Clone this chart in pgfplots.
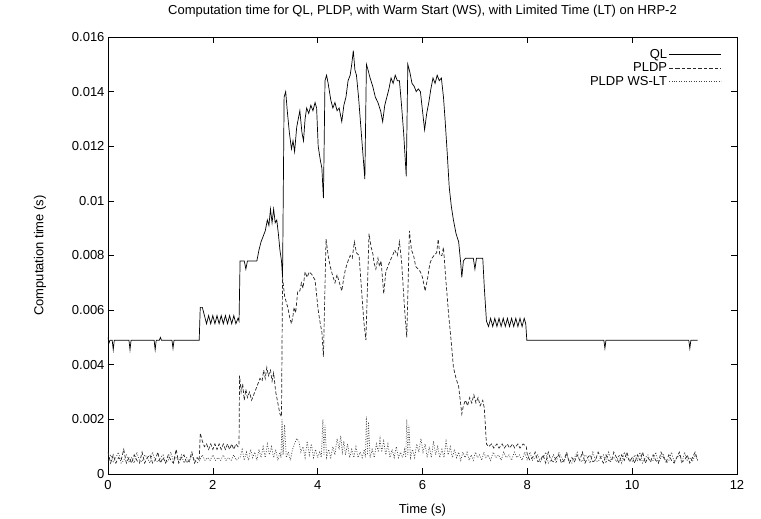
\documentclass[border=0pt]{standalone}
\usepackage{fontspec}
\setmainfont{Liberation Sans}
\usepackage{pgfplots}
\pgfplotsset{compat=1.18}

\begin{document}
\begin{tikzpicture}
\begin{axis}[
  scale only axis, width=629pt, height=437pt,
  xmin=0, xmax=12, ymin=0, ymax=0.016,
  font=\fontsize{13}{15}\selectfont,
  xtick={0,2,4,6,8,10,12}, xticklabels={0,2,4,6,8,10,12},
  ytick={0,0.002,0.004,0.006,0.008,0.01,0.012,0.014,0.016},
  yticklabels={0,0.002,0.004,0.006,0.008,0.01,0.012,0.014,0.016},
  scaled y ticks=false,
  xticklabel style={yshift=-3pt},
  tick align=inside, major tick length=6pt,
  every tick/.style={black, line width=0.6pt},
  axis line style={line width=0.8pt},
  title={Computation time for QL, PLDP, with Warm Start (WS), with Limited Time (LT) on HRP-2},
  title style={at={(0.5,1)}, anchor=center, yshift=20pt},
  xlabel={Time (s)}, ylabel={Computation time (s)},
  xlabel style={at={(axis description cs:0.5,-0.082)}, anchor=center},
  ylabel style={at={(axis description cs:-0.108,0.5)}, anchor=center},
  legend image code/.code={\path (0pt,0pt) -- (7pt,0pt); \draw[#1] (7pt,0pt) -- (52pt,0pt);},
  legend plot pos=right, legend cell align=right,
  legend style={at={(1,1)}, anchor=north east, xshift=-12pt, yshift=-8pt,
    draw=none, fill=none, row sep=-1pt},
]
% QL
\addplot[black, line width=0.7pt] coordinates {
(0,0.0050)(0.02,0.0048)(0.04,0.0049)(0.08,0.0049)(0.1,0.00455)(0.12,0.0049)(0.40,0.0049)(0.42,0.00455)(0.44,0.0049)(0.88,0.0049)(0.9,0.00455)(0.92,0.0049)(0.98,0.0049)(1.0,0.0050)(1.02,0.0049)(1.22,0.0049)(1.24,0.0046)(1.26,0.0049)(1.74,0.0049)
(1.76,0.0061)(1.80,0.0061)(1.84,0.0058)(1.88,0.0055)(1.92,0.0058)(1.96,0.0055)(2.00,0.0058)(2.04,0.0055)(2.08,0.0058)(2.12,0.0055)(2.16,0.0058)(2.20,0.0055)(2.24,0.0058)(2.28,0.0055)(2.32,0.0058)(2.36,0.0055)(2.40,0.0058)(2.44,0.0055)(2.48,0.0057)(2.50,0.0056)
(2.52,0.0078)(2.60,0.0078)(2.63,0.0075)(2.66,0.0078)(2.84,0.0078)(2.88,0.0082)(2.92,0.0085)(2.96,0.0087)(3.00,0.0089)(3.04,0.0093)(3.07,0.0091)(3.10,0.0097)(3.13,0.0092)(3.16,0.0097)(3.19,0.0092)(3.22,0.0093)(3.25,0.0088)(3.28,0.0082)(3.31,0.0078)(3.33,0.0072)
(3.36,0.0138)(3.39,0.0140)(3.42,0.0133)(3.46,0.0125)(3.50,0.0119)(3.53,0.0122)(3.56,0.0118)(3.60,0.0127)(3.63,0.0130)(3.66,0.0133)(3.70,0.0125)(3.73,0.0122)(3.76,0.0130)(3.79,0.0134)(3.83,0.0132)(3.87,0.0135)(3.91,0.0133)(3.95,0.0136)(3.98,0.0134)(4.01,0.0120)(4.05,0.0115)(4.08,0.0112)(4.11,0.0101)
(4.14,0.0144)(4.17,0.0146)(4.20,0.0143)(4.25,0.0137)(4.29,0.0134)(4.33,0.0136)(4.37,0.0133)(4.41,0.0134)(4.46,0.0129)(4.50,0.0135)(4.54,0.0138)(4.58,0.0144)(4.62,0.0146)(4.65,0.0150)(4.68,0.0155)(4.71,0.0148)(4.74,0.0146)(4.78,0.0138)(4.82,0.0128)(4.86,0.0118)(4.90,0.0108)
(4.93,0.0150)(4.96,0.0148)(5.00,0.0145)(5.05,0.0142)(5.10,0.0138)(5.15,0.0136)(5.20,0.0133)(5.24,0.0129)(5.28,0.0135)(5.32,0.0138)(5.36,0.0141)(5.40,0.0145)(5.44,0.0143)(5.48,0.0146)(5.52,0.0144)(5.56,0.0144)(5.60,0.0135)(5.64,0.0125)(5.69,0.0109)
(5.72,0.0150)(5.76,0.0147)(5.80,0.0143)(5.84,0.0142)(5.88,0.0140)(5.92,0.0141)(5.96,0.0140)(6.00,0.0133)(6.04,0.0126)(6.08,0.0132)(6.12,0.0136)(6.16,0.0141)(6.20,0.0145)(6.24,0.0143)(6.28,0.0146)(6.32,0.0144)(6.36,0.0145)(6.40,0.0138)(6.43,0.0130)(6.47,0.0118)(6.51,0.0105)(6.55,0.0098)(6.59,0.0093)(6.64,0.0088)(6.69,0.0085)(6.73,0.0077)(6.75,0.0072)(6.78,0.0078)(6.82,0.0079)(6.97,0.0079)(7.00,0.0075)(7.03,0.0079)(7.15,0.0079)(7.18,0.0068)(7.22,0.0056)
(7.26,0.0054)(7.30,0.0057)(7.34,0.0054)(7.38,0.0057)(7.42,0.0054)(7.46,0.0057)(7.50,0.0054)(7.54,0.0057)(7.58,0.0054)(7.62,0.0057)(7.66,0.0054)(7.70,0.0057)(7.74,0.0054)(7.78,0.0057)(7.82,0.0054)(7.86,0.0057)(7.90,0.0054)(7.94,0.0057)(7.97,0.0055)(7.99,0.0049)
(9.46,0.0049)(9.48,0.0046)(9.50,0.0049)(11.08,0.0049)(11.10,0.0046)(11.12,0.0049)(11.25,0.0049)
};
\addlegendentry{QL}
% PLDP
\addplot[black!85, line width=0.7pt, dash pattern=on 3.5pt off 2pt] coordinates {
(0,0.0008)(0.05,0.0004)(0.10,0.0007)(0.15,0.0004)(0.20,0.0006)(0.25,0.0005)(0.30,0.0009)(0.35,0.0004)(0.40,0.0006)(0.45,0.0004)(0.50,0.0007)(0.55,0.0005)(0.60,0.0004)(0.65,0.0008)(0.70,0.0004)(0.75,0.0006)(0.80,0.0007)(0.85,0.0004)(0.90,0.0005)(0.95,0.0008)(1.00,0.0004)(1.05,0.0006)(1.10,0.0004)(1.15,0.0007)(1.20,0.0005)(1.25,0.0004)(1.30,0.0009)(1.35,0.0004)(1.40,0.0006)(1.45,0.0007)(1.50,0.0004)(1.55,0.0005)(1.60,0.0008)(1.65,0.0004)(1.70,0.0006)
(1.74,0.0005)(1.76,0.0015)(1.80,0.0012)(1.84,0.0010)(1.88,0.0011)(1.92,0.0009)(1.96,0.0011)(2.00,0.0009)(2.04,0.0011)(2.08,0.0009)(2.12,0.0011)(2.16,0.0009)(2.20,0.0011)(2.24,0.0009)(2.28,0.0011)(2.32,0.0009)(2.36,0.0011)(2.40,0.0009)(2.44,0.0011)(2.48,0.0010)(2.50,0.0011)
(2.51,0.0036)(2.54,0.0030)(2.57,0.0033)(2.60,0.0027)(2.63,0.0031)(2.66,0.0028)(2.70,0.0030)(2.74,0.0027)(2.78,0.0029)(2.82,0.0031)(2.86,0.0033)(2.90,0.0035)(2.94,0.0034)(2.97,0.0038)(3.00,0.0035)(3.03,0.0039)(3.06,0.0036)(3.10,0.0038)(3.13,0.0034)(3.16,0.0037)(3.20,0.0030)(3.24,0.0026)(3.28,0.0022)(3.31,0.0021)
(3.33,0.0072)(3.37,0.0065)(3.43,0.0061)(3.47,0.0057)(3.50,0.0055)(3.53,0.0058)(3.55,0.0061)(3.58,0.0059)(3.62,0.0067)(3.66,0.0067)(3.69,0.0070)(3.72,0.0068)(3.76,0.0074)(3.80,0.0072)(3.84,0.0074)(3.89,0.0073)(3.95,0.0071)(4.01,0.0060)(4.05,0.0055)(4.08,0.0052)(4.11,0.0043)
(4.16,0.0086)(4.20,0.0080)(4.24,0.0076)(4.28,0.0073)(4.33,0.0070)(4.37,0.0073)(4.40,0.0071)(4.46,0.0067)(4.50,0.0072)(4.53,0.0075)(4.58,0.0078)(4.62,0.0080)(4.66,0.0079)(4.70,0.0085)(4.74,0.0081)(4.79,0.0080)(4.82,0.0072)(4.85,0.0064)(4.88,0.0056)(4.92,0.0049)
(4.98,0.0088)(5.02,0.0083)(5.05,0.0081)(5.08,0.0077)(5.11,0.0075)(5.15,0.0079)(5.18,0.0076)(5.21,0.0078)(5.26,0.0066)(5.30,0.0074)(5.34,0.0076)(5.38,0.0078)(5.43,0.0080)(5.47,0.0082)(5.52,0.0080)(5.56,0.0085)(5.60,0.0078)(5.63,0.0069)(5.66,0.0060)(5.70,0.0050)
(5.75,0.0089)(5.79,0.0082)(5.83,0.0080)(5.87,0.0076)(5.92,0.0075)(5.96,0.0074)(6.00,0.0072)(6.05,0.0067)(6.10,0.0072)(6.14,0.0077)(6.18,0.0079)(6.22,0.0080)(6.27,0.0081)(6.30,0.0086)(6.33,0.0080)(6.37,0.0080)(6.40,0.0083)(6.45,0.0070)(6.50,0.0058)(6.55,0.0048)(6.59,0.0039)(6.64,0.0035)(6.69,0.0032)(6.72,0.0027)(6.75,0.0022)(6.78,0.0025)(6.82,0.0027)(6.86,0.0025)(6.90,0.0028)(6.94,0.0026)(6.98,0.0029)(7.02,0.0026)(7.06,0.0028)(7.10,0.0025)(7.15,0.0027)(7.18,0.0024)(7.22,0.0011)
(7.26,0.0010)(7.32,0.0011)(7.36,0.00095)(7.42,0.0011)(7.46,0.00095)(7.52,0.0011)(7.56,0.00095)(7.62,0.0011)(7.66,0.00095)(7.72,0.0011)(7.76,0.00095)(7.82,0.0011)(7.86,0.00095)(7.92,0.0011)(7.98,0.0010)
(8.00,0.0007)(8.05,0.0005)(8.10,0.0006)(8.15,0.0008)(8.20,0.00045)(8.25,0.0005)(8.30,0.0007)(8.35,0.0004)(8.40,0.0008)(8.45,0.0005)(8.50,0.00045)(8.55,0.0006)(8.60,0.0007)(8.65,0.0004)(8.70,0.0005)(8.75,0.0008)(8.80,0.0004)(8.85,0.0006)(8.90,0.00045)(8.95,0.0007)(9.00,0.0005)(9.05,0.0008)(9.10,0.0004)(9.15,0.0006)(9.20,0.0007)(9.25,0.00045)(9.30,0.0005)(9.35,0.0008)(9.40,0.0006)(9.45,0.0004)(9.50,0.0007)(9.55,0.0005)(9.60,0.00045)(9.65,0.0008)(9.70,0.0006)(9.75,0.0004)(9.80,0.0007)(9.85,0.0005)(9.90,0.0008)(9.95,0.00045)(10.00,0.0006)(10.05,0.0004)(10.10,0.0007)(10.15,0.0005)(10.20,0.0008)(10.25,0.0004)(10.30,0.0006)(10.35,0.00045)(10.40,0.0007)(10.45,0.0005)(10.50,0.0004)(10.55,0.0008)(10.60,0.0006)(10.65,0.00045)(10.70,0.0007)(10.75,0.0005)(10.80,0.0004)(10.85,0.0006)(10.90,0.0008)(10.95,0.00045)(11.00,0.0005)(11.05,0.0007)(11.10,0.0004)(11.15,0.0006)(11.20,0.0008)(11.25,0.0005)
};
\addlegendentry{PLDP}
% PLDP WS-LT
\addplot[black!75, line width=0.7pt, dash pattern=on 0.9pt off 1.6pt] coordinates {
(0,0.0005)(0.05,0.0007)(0.10,0.00045)(0.15,0.0006)(0.20,0.0008)(0.25,0.0004)(0.30,0.0005)(0.35,0.0007)(0.40,0.00045)(0.45,0.0006)(0.50,0.0004)(0.55,0.0008)(0.60,0.0005)(0.65,0.00045)(0.70,0.0007)(0.75,0.0006)(0.80,0.0004)(0.85,0.0008)(0.90,0.0005)(0.95,0.00045)(1.00,0.0006)(1.05,0.0007)(1.10,0.0004)(1.15,0.0005)(1.20,0.0008)(1.25,0.00045)(1.30,0.0006)(1.35,0.0005)(1.40,0.0007)(1.45,0.0004)(1.50,0.0006)(1.55,0.00045)(1.60,0.0007)(1.65,0.0005)(1.70,0.0004)
(1.75,0.0005)(1.80,0.0007)(1.85,0.0005)(1.90,0.0006)(1.95,0.0005)(2.00,0.0007)(2.05,0.0005)(2.10,0.0006)(2.15,0.0005)(2.20,0.0007)(2.25,0.0005)(2.30,0.0006)(2.35,0.0005)(2.40,0.0007)(2.45,0.0005)(2.50,0.0006)
(2.52,0.0006)(2.56,0.0009)(2.60,0.0005)(2.64,0.0008)(2.68,0.0005)(2.72,0.0009)(2.76,0.0006)(2.80,0.0008)(2.84,0.0005)(2.88,0.0009)(2.92,0.0006)(2.96,0.0010)(3.00,0.0006)(3.04,0.0011)(3.08,0.0007)(3.12,0.0010)(3.16,0.0006)(3.20,0.0009)(3.24,0.0005)(3.28,0.0008)(3.30,0.0006)(3.32,0.0020)(3.34,0.0007)(3.37,0.0018)(3.40,0.0006)
(3.44,0.0008)(3.48,0.0005)(3.52,0.0009)(3.56,0.0011)(3.60,0.0013)(3.64,0.0012)(3.68,0.0008)(3.72,0.0010)(3.76,0.0006)(3.80,0.0012)(3.84,0.0007)(3.88,0.0011)(3.92,0.0006)(3.96,0.0009)(4.00,0.0006)(4.04,0.0008)(4.07,0.0006)(4.10,0.0020)(4.12,0.0007)(4.14,0.0018)(4.17,0.0006)
(4.21,0.0009)(4.25,0.0006)(4.29,0.0010)(4.33,0.0007)(4.37,0.0013)(4.41,0.0009)(4.44,0.0014)(4.47,0.0008)(4.50,0.0012)(4.53,0.0007)(4.57,0.0011)(4.61,0.0006)(4.65,0.0009)(4.69,0.0006)(4.73,0.0010)(4.77,0.0006)(4.81,0.0008)(4.85,0.0006)(4.89,0.0009)(4.91,0.0006)(4.93,0.0021)(4.95,0.0007)(4.97,0.0019)(5.00,0.0006)
(5.04,0.0009)(5.08,0.0006)(5.12,0.0011)(5.16,0.0008)(5.19,0.0013)(5.22,0.0008)(5.26,0.0012)(5.30,0.0007)(5.34,0.0011)(5.38,0.0006)(5.42,0.0009)(5.46,0.0006)(5.50,0.0010)(5.54,0.0006)(5.58,0.0008)(5.62,0.0006)(5.66,0.0009)(5.68,0.0006)(5.70,0.0020)(5.72,0.0007)(5.74,0.0018)(5.77,0.0006)
(5.81,0.0009)(5.85,0.0006)(5.89,0.0011)(5.93,0.0008)(5.97,0.0013)(6.01,0.0008)(6.05,0.0011)(6.09,0.0006)(6.13,0.0010)(6.17,0.0006)(6.21,0.0012)(6.25,0.0007)(6.29,0.0010)(6.33,0.0006)(6.37,0.0009)(6.41,0.0006)(6.45,0.0012)(6.49,0.0007)(6.53,0.0010)(6.57,0.0006)(6.61,0.0009)(6.65,0.0006)(6.69,0.0008)(6.73,0.0005)
(6.77,0.0008)(6.81,0.0006)(6.85,0.0008)(6.89,0.0005)(6.93,0.0007)(6.97,0.0005)(7.01,0.0008)(7.05,0.0006)(7.09,0.0007)(7.13,0.0005)(7.17,0.0008)(7.21,0.0006)(7.25,0.0007)(7.30,0.0005)(7.35,0.0008)(7.40,0.0006)(7.45,0.0007)(7.50,0.0005)(7.55,0.0008)(7.60,0.0006)(7.65,0.0007)(7.70,0.0005)(7.75,0.0008)(7.80,0.0006)(7.85,0.0007)(7.90,0.0005)(7.95,0.0008)
(8.00,0.0005)(8.05,0.0008)(8.10,0.0005)(8.15,0.0006)(8.20,0.0007)(8.25,0.00045)(8.30,0.0006)(8.35,0.0008)(8.40,0.0004)(8.45,0.0005)(8.50,0.0007)(8.55,0.0004)(8.60,0.0008)(8.65,0.0006)(8.70,0.00045)(8.75,0.0007)(8.80,0.0005)(8.85,0.0004)(8.90,0.0006)(8.95,0.0008)(9.00,0.0005)(9.05,0.00045)(9.10,0.0007)(9.15,0.0006)(9.20,0.0004)(9.25,0.0008)(9.30,0.0005)(9.35,0.00045)(9.40,0.0006)(9.45,0.0007)(9.50,0.0004)(9.55,0.0008)(9.60,0.0005)(9.65,0.0006)(9.70,0.00045)(9.75,0.0007)(9.80,0.0004)(9.85,0.0008)(9.90,0.0006)(9.95,0.0005)(10.00,0.00045)(10.05,0.0007)(10.10,0.0005)(10.15,0.0008)(10.20,0.0004)(10.25,0.0006)(10.30,0.0007)(10.35,0.00045)(10.40,0.0005)(10.45,0.0008)(10.50,0.0004)(10.55,0.0006)(10.60,0.0007)(10.65,0.0004)(10.70,0.0005)(10.75,0.0008)(10.80,0.00045)(10.85,0.0006)(10.90,0.0007)(10.95,0.0004)(11.00,0.0008)(11.05,0.0005)(11.10,0.0006)(11.15,0.00045)(11.20,0.0007)(11.25,0.0005)
};
\addlegendentry{PLDP WS-LT}
\end{axis}
\pgfresetboundingbox
\path (current axis.south west) ++(-108pt,-45pt) rectangle ++(761pt,519pt);
\end{tikzpicture}
\end{document}
